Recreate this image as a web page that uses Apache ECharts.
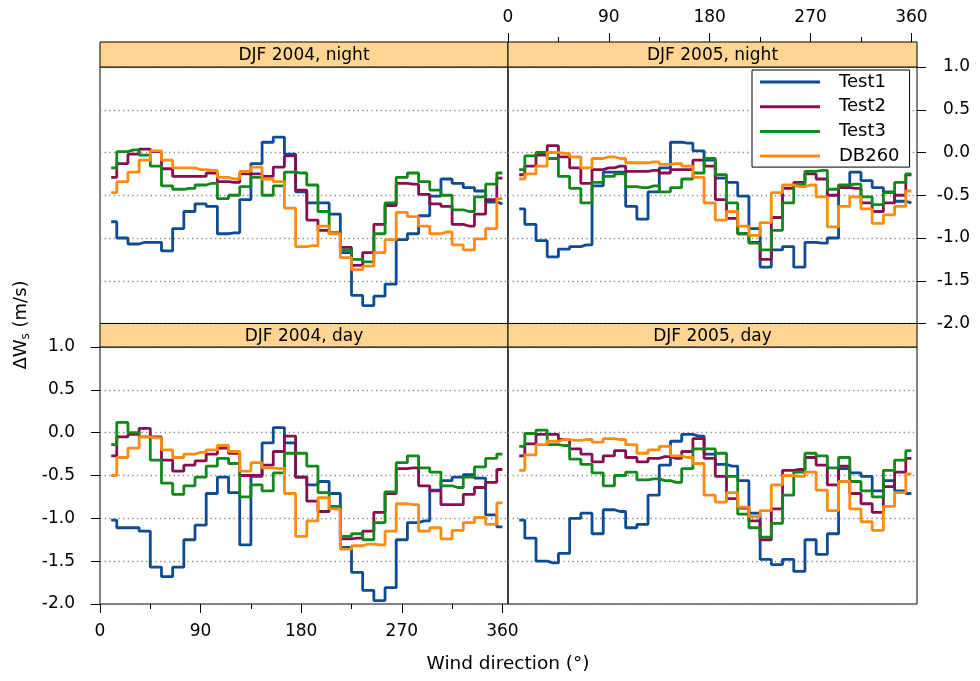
<!DOCTYPE html>
<html>
<head>
<meta charset="utf-8">
<script src="https://cdn.jsdelivr.net/npm/echarts@6/dist/echarts.min.js"></script>
<style>
  html, body { margin: 0; padding: 0; background: #ffffff; }
  #chart { width: 980px; height: 681px; }
</style>
</head>
<body>
<div id="chart"></div>
<script>
// Wind-direction bins (degrees), bin centres
const directions = [10, 20, 30, 40, 50, 60, 70, 80, 90, 100, 110, 120, 130, 140, 150, 160, 170, 180,
                    190, 200, 210, 220, 230, 240, 250, 260, 270, 280, 290, 300, 310, 320, 330, 340, 350, 360];
const seriesNames = ['Test1', 'Test2', 'Test3', 'DB260'];
const panelTitles = ['DJF 2004, night', 'DJF 2005, night', 'DJF 2004, day', 'DJF 2005, day'];
const xTickValues = [0, 90, 180, 270, 360];

// DJF 2004, night
const night2004_test1 = [-0.81, -1.00, -1.07, -1.05, -1.05, -1.15, -0.89, -0.69, -0.60, -0.63, -0.95, -0.94, -0.55, -0.13, 0.12, 0.18, -0.02, -0.46,
                         -0.59, -0.59, -0.72, -1.17, -1.67, -1.79, -1.68, -1.54, -1.02, -0.95, -0.74, -0.51, -0.31, -0.36, -0.41, -0.45, -0.58, -0.60];
const night2004_test2 = [-0.29, -0.13, -0.02, 0.04, 0.01, -0.19, -0.28, -0.28, -0.28, -0.24, -0.34, -0.35, -0.25, -0.25, -0.28, -0.17, -0.04, -0.44,
                         -0.79, -0.91, -0.94, -1.11, -1.32, -1.17, -0.84, -0.62, -0.36, -0.37, -0.49, -0.60, -0.63, -0.84, -0.86, -0.72, -0.55, -0.30];
const night2004_test3 = [-0.18, 0.01, 0.03, -0.03, -0.16, -0.39, -0.43, -0.42, -0.38, -0.36, -0.54, -0.50, -0.40, -0.29, -0.50, -0.39, -0.23, -0.24,
                         -0.38, -0.69, -0.94, -1.14, -1.25, -1.28, -0.95, -0.59, -0.29, -0.24, -0.34, -0.44, -0.50, -0.67, -0.69, -0.52, -0.37, -0.24];
const night2004_db260 = [-0.47, -0.34, -0.23, -0.09, 0.02, -0.09, -0.18, -0.18, -0.20, -0.21, -0.29, -0.31, -0.22, -0.17, -0.31, -0.34, -0.65, -1.10,
                         -1.09, -0.86, -0.95, -1.23, -1.37, -1.33, -1.17, -1.02, -0.70, -0.75, -0.86, -0.95, -0.93, -1.08, -1.14, -1.01, -0.89, -0.54];

// DJF 2005, night
const night2005_test1 = [-0.66, -0.84, -1.03, -1.22, -1.13, -1.10, -1.08, -0.39, -0.23, -0.23, -0.63, -0.78, -0.46, -0.18, 0.12, 0.11, 0.02, -0.09,
                         -0.30, -0.35, -0.51, -0.89, -1.34, -1.14, -1.10, -1.34, -1.05, -1.06, -1.00, -0.40, -0.23, -0.33, -0.41, -0.46, -0.57, -0.59];
const night2005_test2 = [-0.26, -0.16, -0.03, 0.08, -0.05, -0.18, -0.36, -0.20, -0.18, -0.16, -0.22, -0.22, -0.21, -0.24, -0.20, -0.20, -0.09, -0.16,
                         -0.55, -0.77, -0.95, -1.05, -1.25, -0.76, -0.42, -0.35, -0.25, -0.31, -0.50, -0.41, -0.42, -0.59, -0.69, -0.59, -0.50, -0.26];
const night2005_test3 = [-0.20, -0.04, 0.00, -0.07, -0.28, -0.42, -0.59, -0.35, -0.28, -0.25, -0.40, -0.41, -0.39, -0.46, -0.41, -0.31, -0.24, -0.07,
                         -0.26, -0.59, -0.95, -1.06, -1.14, -0.91, -0.59, -0.38, -0.22, -0.21, -0.43, -0.38, -0.37, -0.52, -0.61, -0.47, -0.35, -0.25];
const night2005_db260 = [-0.31, -0.25, -0.16, 0.00, -0.01, -0.05, -0.18, -0.07, -0.05, -0.07, -0.12, -0.12, -0.11, -0.14, -0.13, -0.16, -0.29, -0.59,
                         -0.79, -0.69, -0.86, -0.97, -0.82, -0.47, -0.38, -0.40, -0.38, -0.52, -0.87, -0.63, -0.52, -0.66, -0.83, -0.73, -0.63, -0.45];

// DJF 2004, day
const day2004_test1 = [-1.02, -1.11, -1.11, -1.15, -1.57, -1.68, -1.57, -1.25, -1.08, -0.71, -0.52, -0.70, -1.31, -0.51, -0.12, 0.06, -0.12, -0.52,
                       -0.61, -0.57, -0.71, -1.34, -1.63, -1.84, -1.96, -1.81, -1.25, -1.05, -1.03, -0.67, -0.56, -0.52, -0.49, -0.53, -0.96, -1.10];
const day2004_test2 = [-0.27, -0.05, -0.02, 0.05, -0.05, -0.32, -0.45, -0.38, -0.33, -0.25, -0.18, -0.24, -0.50, -0.50, -0.38, -0.22, -0.04, -0.52,
                       -0.80, -0.92, -0.87, -1.24, -1.23, -1.15, -0.93, -0.71, -0.42, -0.41, -0.62, -0.68, -0.84, -0.84, -0.72, -0.64, -0.58, -0.43];
const day2004_test3 = [-0.14, 0.12, 0.00, -0.05, -0.32, -0.59, -0.72, -0.62, -0.52, -0.39, -0.30, -0.36, -0.75, -0.61, -0.68, -0.47, -0.24, -0.24,
                       -0.39, -0.70, -0.86, -1.21, -1.18, -1.25, -1.05, -0.69, -0.35, -0.27, -0.41, -0.46, -0.62, -0.64, -0.52, -0.40, -0.30, -0.25];
const day2004_db260 = [-0.50, -0.29, -0.18, -0.05, -0.06, -0.20, -0.29, -0.25, -0.23, -0.20, -0.15, -0.22, -0.45, -0.35, -0.41, -0.42, -0.71, -1.21,
                       -1.03, -0.76, -0.89, -1.36, -1.32, -1.30, -1.31, -1.15, -0.83, -0.84, -1.15, -1.11, -1.24, -1.14, -1.05, -0.99, -1.07, -0.82];

// DJF 2005, day
const day2005_test1 = [-1.02, -1.23, -1.50, -1.52, -1.41, -1.00, -0.94, -1.18, -0.90, -0.92, -1.11, -1.07, -0.73, -0.38, -0.10, -0.02, -0.04, -0.25,
                       -0.37, -0.39, -0.56, -0.94, -1.48, -1.54, -1.48, -1.62, -1.25, -1.42, -1.18, -0.42, -0.47, -0.51, -0.68, -0.56, -0.68, -0.71];
const day2005_test2 = [-0.27, -0.13, -0.02, -0.02, -0.08, -0.19, -0.25, -0.34, -0.27, -0.21, -0.29, -0.34, -0.30, -0.28, -0.30, -0.22, -0.07, -0.30,
                       -0.51, -0.77, -0.88, -1.03, -1.25, -0.89, -0.44, -0.43, -0.29, -0.38, -0.61, -0.39, -0.71, -0.83, -0.93, -0.63, -0.46, -0.30];
const day2005_test3 = [-0.16, -0.01, 0.03, -0.14, -0.15, -0.31, -0.37, -0.47, -0.62, -0.50, -0.46, -0.55, -0.54, -0.56, -0.58, -0.42, -0.19, -0.19,
                       -0.24, -0.51, -0.95, -1.11, -1.22, -1.06, -0.73, -0.46, -0.24, -0.27, -0.41, -0.29, -0.57, -0.68, -0.75, -0.44, -0.32, -0.21];
const day2005_db260 = [-0.44, -0.26, -0.14, -0.10, -0.08, -0.09, -0.08, -0.11, -0.07, -0.08, -0.14, -0.24, -0.20, -0.16, -0.27, -0.29, -0.36, -0.73,
                       -0.81, -0.70, -0.87, -0.98, -0.91, -0.61, -0.50, -0.51, -0.46, -0.67, -0.91, -0.57, -0.89, -1.04, -1.14, -0.86, -0.70, -0.48];

const panelValues = [
  [night2004_test1, night2004_test2, night2004_test3, night2004_db260],
  [night2005_test1, night2005_test2, night2005_test3, night2005_db260],
  [day2004_test1, day2004_test2, day2004_test3, day2004_db260],
  [day2005_test1, day2005_test2, day2005_test3, day2005_db260]
];

// ---- styling / layout ----
const FONT = 'DejaVu Sans';
const colors = ['#0d4b92', '#86104f', '#12871a', '#ff8a10'];
const stripFill = '#ffd592';
const panels = [
  { left: 100, top: 67,  width: 408, height: 256.5 },
  { left: 508, top: 67,  width: 409, height: 256.5 },
  { left: 100, top: 347, width: 408, height: 257 },
  { left: 508, top: 347, width: 409, height: 257 }
];
const strips = [
  { x: 100, y: 42,    w: 408, h: 25 },
  { x: 508, y: 42,    w: 409, h: 25 },
  { x: 100, y: 323.5, w: 408, h: 23.5 },
  { x: 508, y: 323.5, w: 409, h: 23.5 }
];

const labelStyle = { fontFamily: FONT, fontSize: 17, color: '#000' };

const grids = panels.map(p => ({
  left: p.left, top: p.top, width: p.width, height: p.height,
  containLabel: false, show: true, borderColor: '#000', borderWidth: 1, backgroundColor: 'transparent'
}));

function baseX(gridIndex) {
  return {
    type: 'value', gridIndex, min: 0, max: 365, interval: 90,
    axisLine: { show: false, onZero: false }, splitLine: { show: false },
    axisTick: { show: false }, minorTick: { show: false }, axisLabel: { show: false }
  };
}
const xAxes = panels.map((p, i) => baseX(i));
const tickStyle = { show: true, inside: false, length: 9, customValues: xTickValues, lineStyle: { color: '#000' } };
const minorStyle = { show: true, splitNumber: 2, length: 5, lineStyle: { color: '#000' } };
// top-right panel: axis above the strip
Object.assign(xAxes[1], {
  position: 'top', offset: 25,
  axisTick: tickStyle, minorTick: minorStyle,
  axisLabel: Object.assign({ show: true, margin: 16, customValues: xTickValues }, labelStyle)
});
// bottom-left panel: axis below
Object.assign(xAxes[2], {
  position: 'bottom',
  axisTick: tickStyle, minorTick: minorStyle,
  axisLabel: Object.assign({ show: true, margin: 19, customValues: xTickValues }, labelStyle)
});

function baseY(gridIndex) {
  return {
    type: 'value', gridIndex, min: -2, max: 1, interval: 0.5,
    axisLine: { show: false, onZero: false },
    splitLine: { show: true, lineStyle: { color: '#8c8c8c', width: 1.4, type: [1.4, 3.2] } },
    axisTick: { show: false }, axisLabel: { show: false }
  };
}
const yAxes = panels.map((p, i) => baseY(i));
Object.assign(yAxes[1], {
  position: 'right',
  axisTick: { show: true, inside: false, length: 9, lineStyle: { color: '#000' } },
  axisLabel: Object.assign({ show: true, align: 'right', margin: 53, formatter: v => v.toFixed(1) }, labelStyle)
});
Object.assign(yAxes[2], {
  position: 'left',
  axisTick: { show: true, inside: false, length: 9, lineStyle: { color: '#000' } },
  axisLabel: Object.assign({ show: true, margin: 25, formatter: v => v.toFixed(1) }, labelStyle)
});

const series = [];
panelValues.forEach((group, p) => {
  group.forEach((vals, s) => {
    series.push({
      name: seriesNames[s], type: 'line', step: 'middle',
      xAxisIndex: p, yAxisIndex: p,
      data: directions.map((d, i) => [d, vals[i]]),
      symbol: 'none', showSymbol: false,
      lineStyle: { width: 2.8, color: colors[s] },
      itemStyle: { color: colors[s] },
      z: 3 + s, animation: false
    });
  });
});

const graphic = [];
strips.forEach((st, i) => {
  graphic.push({
    type: 'rect', z: 10,
    shape: { x: st.x, y: st.y, width: st.w, height: st.h },
    style: { fill: stripFill, stroke: '#000', lineWidth: 1 }
  });
  graphic.push({
    type: 'text', z: 11,
    x: st.x + st.w / 2, y: st.y + st.h / 2 + 1,
    style: { text: panelTitles[i], fontFamily: FONT, fontSize: 17, fill: '#000', align: 'center', verticalAlign: 'middle' }
  });
});
// axis titles
graphic.push({
  type: 'text', z: 11, x: 508, y: 664,
  style: { text: 'Wind direction (\u00B0)', fontFamily: FONT, fontSize: 18.5, fill: '#000', align: 'center', verticalAlign: 'middle' }
});
graphic.push({
  type: 'text', z: 11, x: 21, y: 325, rotation: Math.PI / 2,
  style: {
    text: '{a|\u0394W}{b|s}{a| (m/s)}',
    align: 'center', verticalAlign: 'middle', fill: '#000',
    rich: {
      a: { fontFamily: FONT, fontSize: 18, lineHeight: 22, fill: '#000' },
      b: { fontFamily: FONT, fontSize: 12, lineHeight: 22, fill: '#000', padding: [10, 0, 0, 0] }
    }
  }
});

const chart = echarts.init(document.getElementById('chart'), null, { renderer: 'canvas' });
chart.setOption({
  backgroundColor: '#ffffff',
  animation: false,
  grid: grids,
  xAxis: xAxes,
  yAxis: yAxes,
  legend: {
    data: seriesNames, orient: 'vertical', left: 752, top: 70,
    icon: 'rect', itemWidth: 60, itemHeight: 3, itemGap: 6.7,
    padding: [3, 10, 2, 8],
    borderColor: '#000', borderWidth: 1, backgroundColor: '#ffffff',
    selectedMode: false, z: 20,
    textStyle: { fontFamily: FONT, fontSize: 18, lineHeight: 18, color: '#000', padding: [0, 0, 0, 14] }
  },
  series,
  graphic
});
</script>
</body>
</html>
